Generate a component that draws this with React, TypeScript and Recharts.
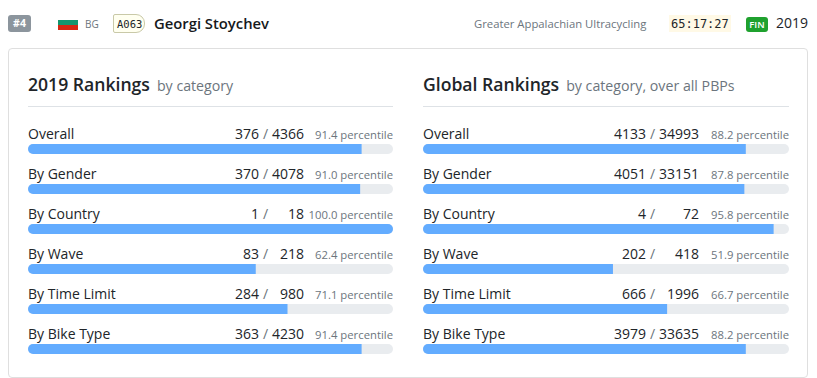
import React from "react";
import { Bar, BarChart, Cell, LabelList, XAxis, YAxis } from "recharts";

const categories = ["Overall", "By Gender", "By Country", "By Wave", "By Time Limit", "By Bike Type"];

const ranks2019 = [376, 370, 1, 83, 284, 363];
const totals2019 = [4366, 4078, 18, 218, 980, 4230];
const percentiles2019 = [91.4, 91.0, 100.0, 62.4, 71.1, 91.4];

const ranksGlobal = [4133, 4051, 4, 202, 666, 3979];
const totalsGlobal = [34993, 33151, 72, 418, 1996, 33635];
const percentilesGlobal = [88.2, 87.8, 95.8, 51.9, 66.7, 88.2];

const FONT = "'Open Sans', sans-serif";
const DARK = "#212529";
const MUTED = "#6c757d";

function buildRows(ranks: number[], totals: number[], percentiles: number[]) {
  return categories.map((category, i) => ({
    category,
    rank: ranks[i],
    total: totals[i],
    percentile: percentiles[i],
  }));
}

function RowLabel(props: any) {
  const { x, y, index, rows, plotWidth, rankEnd } = props;
  const row = rows[index];
  const base = y - 5;
  return (
    <g fontFamily={FONT}>
      <text x={x} y={base} fontSize={14} fill={DARK}>
        {row.category}
      </text>
      <text x={x + rankEnd} y={base} fontSize={14} fill={DARK} textAnchor="end">
        {row.rank}
      </text>
      <text x={x + rankEnd + 4} y={base} fontSize={14} fill={MUTED}>
        /
      </text>
      <text x={x + 276} y={base} fontSize={14} fill={DARK} textAnchor="end">
        {row.total}
      </text>
      <text x={x + plotWidth} y={base} fontSize={11.3} fill={MUTED} textAnchor="end">
        {row.percentile.toFixed(1)} percentile
      </text>
    </g>
  );
}

function RankChart({ rows, plotWidth, rankEnd }: { rows: any[]; plotWidth: number; rankEnd: number }) {
  return (
    <BarChart
      layout="vertical"
      width={plotWidth}
      height={250}
      data={rows}
      margin={{ top: 10, right: 0, bottom: 0, left: 0 }}
    >
      <XAxis type="number" domain={[0, 100]} hide />
      <YAxis type="category" dataKey="category" hide />
      <Bar
        dataKey="percentile"
        barSize={10}
        fill="#63acff"
        radius={[5, 0, 0, 5]}
        background={{ fill: "#e9ecef", radius: 5 } as any}
        isAnimationActive={false}
      >
        {rows.map((row) => (
          <Cell key={row.category} {...({ radius: row.percentile >= 100 ? 5 : [5, 0, 0, 5] } as any)} />
        ))}
        <LabelList
          dataKey="category"
          content={(p: any) => <RowLabel {...p} rows={rows} plotWidth={plotWidth} rankEnd={rankEnd} />}
        />
      </Bar>
    </BarChart>
  );
}

function PanelTitle({ left, title, sub, width }: { left: number; title: string; sub: string; width: number }) {
  return (
    <div
      style={{
        position: "absolute",
        left,
        top: 70,
        width,
        height: 36,
        borderBottom: "1px solid #dee2e6",
        color: DARK,
        fontSize: 17.6,
        fontWeight: 600,
        lineHeight: "28px",
        whiteSpace: "nowrap",
      }}
    >
      {title}
      <span style={{ marginLeft: 7, fontSize: 14.2, fontWeight: 400, color: MUTED }}>{sub}</span>
    </div>
  );
}

const abs = (left: number, top: number): React.CSSProperties => ({ position: "absolute", left, top, whiteSpace: "nowrap" });

export default function App() {
  return (
    <div style={{ position: "absolute", left: 0, top: 0, width: 817, height: 378, fontFamily: FONT, background: "#fff", overflow: "hidden" }}>
      {/* header strip */}
      <div style={{ ...abs(8, 15), width: 23, height: 17, background: "#8c959d", borderRadius: 3, color: "#fff", fontSize: 10.5, fontWeight: 700, lineHeight: "17px", textAlign: "center" }}>
        #4
      </div>
      <div style={{ ...abs(58, 20), width: 20, height: 10, background: "#13966f" }} />
      <div style={{ ...abs(58, 25), width: 20, height: 5, background: "#d62612" }} />
      <div style={{ ...abs(85, 15), color: MUTED, fontSize: 10, lineHeight: "18px" }}>BG</div>
      <div style={{ ...abs(113, 14), width: 32, height: 19, boxSizing: "border-box", background: "#fffff0", border: "1px solid #c9c9a8", borderRadius: "2px 9px 9px 2px", fontFamily: "'DejaVu Sans Mono', monospace", fontSize: 10.5, lineHeight: "18px", paddingLeft: 3, color: DARK }}>
        A063
      </div>
      <div style={{ ...abs(154, 12), fontSize: 14.8, fontWeight: 600, lineHeight: "22px", color: "#16191c" }}>Georgi Stoychev</div>
      <div style={{ ...abs(474, 15), fontSize: 11.3, lineHeight: "18px", color: MUTED }}>Greater Appalachian Ultracycling</div>
      <div style={{ ...abs(669, 15), height: 17, background: "#fff9e6", fontFamily: "'DejaVu Sans Mono', monospace", fontSize: 12, lineHeight: "18px", color: DARK, padding: "0 2px" }}>65:17:27</div>
      <div style={{ ...abs(746, 17), width: 22, height: 15, background: "#1fa12e", borderRadius: 3, color: "#fff", fontSize: 9.5, fontWeight: 600, lineHeight: "15px", textAlign: "center" }}>FIN</div>
      <div style={{ ...abs(776, 13), fontSize: 14, lineHeight: "20px", color: DARK }}>2019</div>

      {/* card */}
      <div style={{ ...abs(8, 48), width: 800, height: 330, boxSizing: "border-box", border: "1px solid #dfdfdf", borderRadius: 4 }} />

      <PanelTitle left={28} title="2019 Rankings" sub="by category" width={365} />
      <PanelTitle left={423} title="Global Rankings" sub="by category, over all PBPs" width={366} />

      <div style={{ position: "absolute", left: 28, top: 119 }}>
        <RankChart rows={buildRows(ranks2019, totals2019, percentiles2019)} plotWidth={365} rankEnd={231} />
      </div>
      <div style={{ position: "absolute", left: 423, top: 119 }}>
        <RankChart rows={buildRows(ranksGlobal, totalsGlobal, percentilesGlobal)} plotWidth={366} rankEnd={223} />
      </div>
    </div>
  );
}
